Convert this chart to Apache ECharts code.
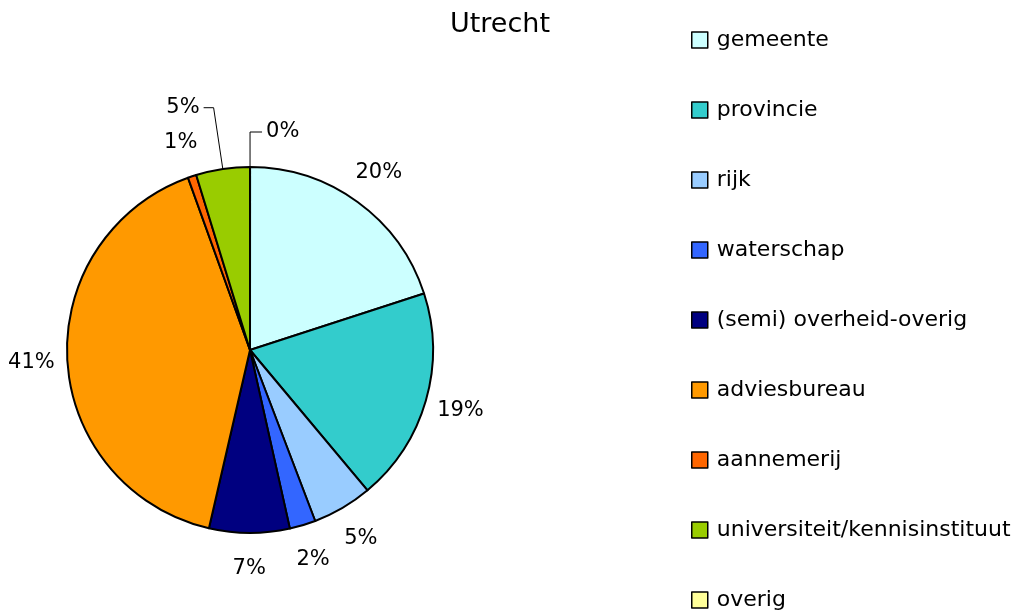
<!DOCTYPE html>
<html>
<head>
<meta charset="utf-8">
<script src="https://cdn.jsdelivr.net/npm/echarts@6/dist/echarts.min.js"></script>
<style>html,body{margin:0;padding:0;background:#fff}#c{width:1024px;height:614px}</style>
</head>
<body>
<div id="c"></div>
<script>
var categories = ['gemeente','provincie','rijk','waterschap','(semi) overheid-overig','adviesbureau','aannemerij','universiteit/kennisinstituut','overig'];
var values = [20.0, 18.9, 5.3, 2.3, 7.1, 40.9, 0.75, 4.75, 0];
var colors = ['#CCFFFF','#33CCCC','#99CCFF','#3366FF','#000080','#FF9900','#FF6600','#99CC00','#FFFF99'];
var titleText = 'Utrecht';

// which labels get a leader line (drawn by main pie); others centred on a ring
var leaderLabel = {7: {length: 62, length2: 10}, 8: {length: 35, length2: 12}};

var FONT = 'DejaVu Sans';
function pct(p){ return Math.round(p.percent) + '%'; }

var mainData = categories.map(function(n, i){
  var d = {name: n, value: values[i], itemStyle: {color: colors[i]}};
  if (leaderLabel[i]) {
    d.label = {show: true};
    d.labelLine = {show: true, length: leaderLabel[i].length, length2: leaderLabel[i].length2};
  }
  return d;
});
var ringData = categories.map(function(n, i){
  return {name: n, value: values[i], label: {show: !leaderLabel[i]}};
});

var chart = echarts.init(document.getElementById('c'), null, {renderer: 'canvas'});
chart.setOption({
  animation: false,
  backgroundColor: '#fff',
  title: {
    text: titleText, left: 495, top: 6, textAlign: 'center',
    textStyle: {fontFamily: FONT, fontSize: 27, fontWeight: 'normal', color: '#000'}
  },
  legend: {
    orient: 'vertical', left: 691, top: 29, padding: 0,
    itemWidth: 16, itemHeight: 16, itemGap: 48,
    icon: 'rect',
    itemStyle: {borderColor: '#000', borderWidth: 1.5},
    textStyle: {fontFamily: FONT, fontSize: 22, color: '#000', padding: [0,0,0,4]},
    data: categories
  },
  series: [
    {
      type: 'pie', center: [250, 350], radius: 183,
      startAngle: 89.99, clockwise: true,
      avoidLabelOverlap: false,
      itemStyle: {borderColor: '#000', borderWidth: 2},
      label: {show: false, position: 'outside', formatter: pct, fontFamily: FONT, fontSize: 21, color: '#000', distanceToLabelLine: 4},
      labelLine: {show: false, lineStyle: {color: '#000', width: 1}},
      emphasis: {disabled: true},
      data: mainData
    },
    {
      type: 'pie', center: [250, 350], radius: [198, 234],
      startAngle: 89.99, clockwise: true, silent: true,
      legendHoverLink: false,
      itemStyle: {color: 'rgba(0,0,0,0)', borderWidth: 0},
      label: {position: 'inside', formatter: pct, fontFamily: FONT, fontSize: 21, color: '#000'},
      labelLine: {show: false},
      emphasis: {disabled: true},
      data: ringData
    }
  ]
});
</script>
</body>
</html>
